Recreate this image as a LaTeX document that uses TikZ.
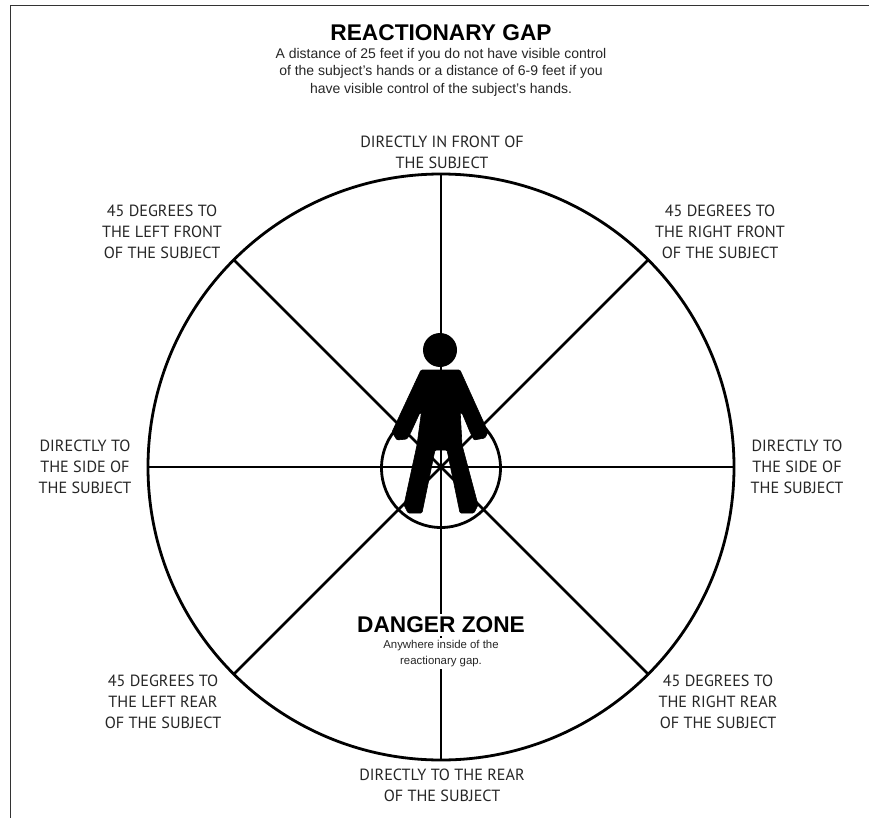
\documentclass[tikz,border=0pt]{standalone}
\usepackage{fontspec}
\setmainfont{Liberation Sans}
\newfontfamily\lblfont{PT Sans}
\begin{document}
\begin{tikzpicture}[x=1pt,y=-1pt,
  every node/.style={inner sep=0pt,outer sep=0pt},
  ring/.style={circle,draw=black,minimum size=#1,line width=2.8pt},
  spoke/.style={draw=black,line width=2.6pt},
  frameline/.style={draw=black!80,line width=1pt},
  lbl/.style={align=center,font=\lblfont\fontsize{16.2}{21}\selectfont,text=black!85},
  titletxt/.style={font=\bfseries\fontsize{22.7}{24}\selectfont},
  subtxt/.style={align=center,font=\fontsize{14}{17.6}\selectfont,text=black!85},
  dzsub/.style={align=center,font=\fontsize{11.4}{16.5}\selectfont,text=black!85},
  person/.style={fill=black,draw=black,line width=.6pt,line join=round}]
\useasboundingbox (0,0) rectangle (869,818);
\fill[white] (0,0) rectangle (869,818);
\coordinate (fa) at (869,6);
\coordinate (fb) at (10,6);
\coordinate (fc) at (10,818);
\draw[frameline] (fa) -- (fb) -- (fc);
\node[ring=586pt] (outer) at (441,467) {};
\node[ring=119pt] (inner) at (441,468) {};
\coordinate (c) at (441,467);
\foreach \a in {0,90,180,270}{\draw[spoke] (outer.\a) -- (outer.\a+180);}
\draw[spoke] (outer.45) -- (c);
\draw[spoke] (outer.135) -- (c);
\draw[spoke] (outer.225) -- (c);
\draw[spoke] (outer.315) -- (c);
% figure
\node[circle,fill=black,minimum size=34pt] (head) at (440,350) {};
\fill[person,rounded corners=1.2pt] (421,370) -- (460,370)
  -- (488,432) -- (485,438) -- (474,440) -- (470,432) -- (460,408)
  -- (462,445) -- (478,505) -- (474,513) -- (460,513) -- (447,450) -- (441,450)
  -- (435,450) -- (422,513) -- (408,513) -- (404,505) -- (417,445)
  -- (422,408) -- (411,432) -- (407,439) -- (397,440) -- (392,432) -- cycle;
\node[titletxt] (title) at (441,33) {REACTIONARY GAP};
\node[subtxt,anchor=north] (sub) at (441,48) {A distance of 25 feet if you do not have visible control\\of the subject's hands or a distance of 6-9 feet if you\\have visible control of the subject's hands.};
\node[lbl] (n) at (442,152.5) {DIRECTLY IN FRONT OF\\THE SUBJECT};
\node[lbl] (nw) at (162,232) {45 DEGREES TO\\THE LEFT FRONT\\OF THE SUBJECT};
\node[lbl] (ne) at (720,232) {45 DEGREES TO\\THE RIGHT FRONT\\OF THE SUBJECT};
\node[lbl] (w) at (85,467) {DIRECTLY TO\\THE SIDE OF\\THE SUBJECT};
\node[lbl] (e) at (797,467) {DIRECTLY TO\\THE SIDE OF\\THE SUBJECT};
\node[lbl] (sw) at (163,702) {45 DEGREES TO\\THE LEFT REAR\\OF THE SUBJECT};
\node[lbl] (se) at (718,702) {45 DEGREES TO\\THE RIGHT REAR\\OF THE SUBJECT};
\node[lbl] (s) at (442,785.5) {DIRECTLY TO THE REAR\\OF THE SUBJECT};
\node[titletxt,fill=white,inner ysep=3pt] (dz) at (441,625) {DANGER ZONE};
\node[dzsub,anchor=north,fill=white,inner ysep=2pt] (dzs) at (441,638) {Anywhere inside of the\\reactionary gap.};
\end{tikzpicture}
\end{document}
